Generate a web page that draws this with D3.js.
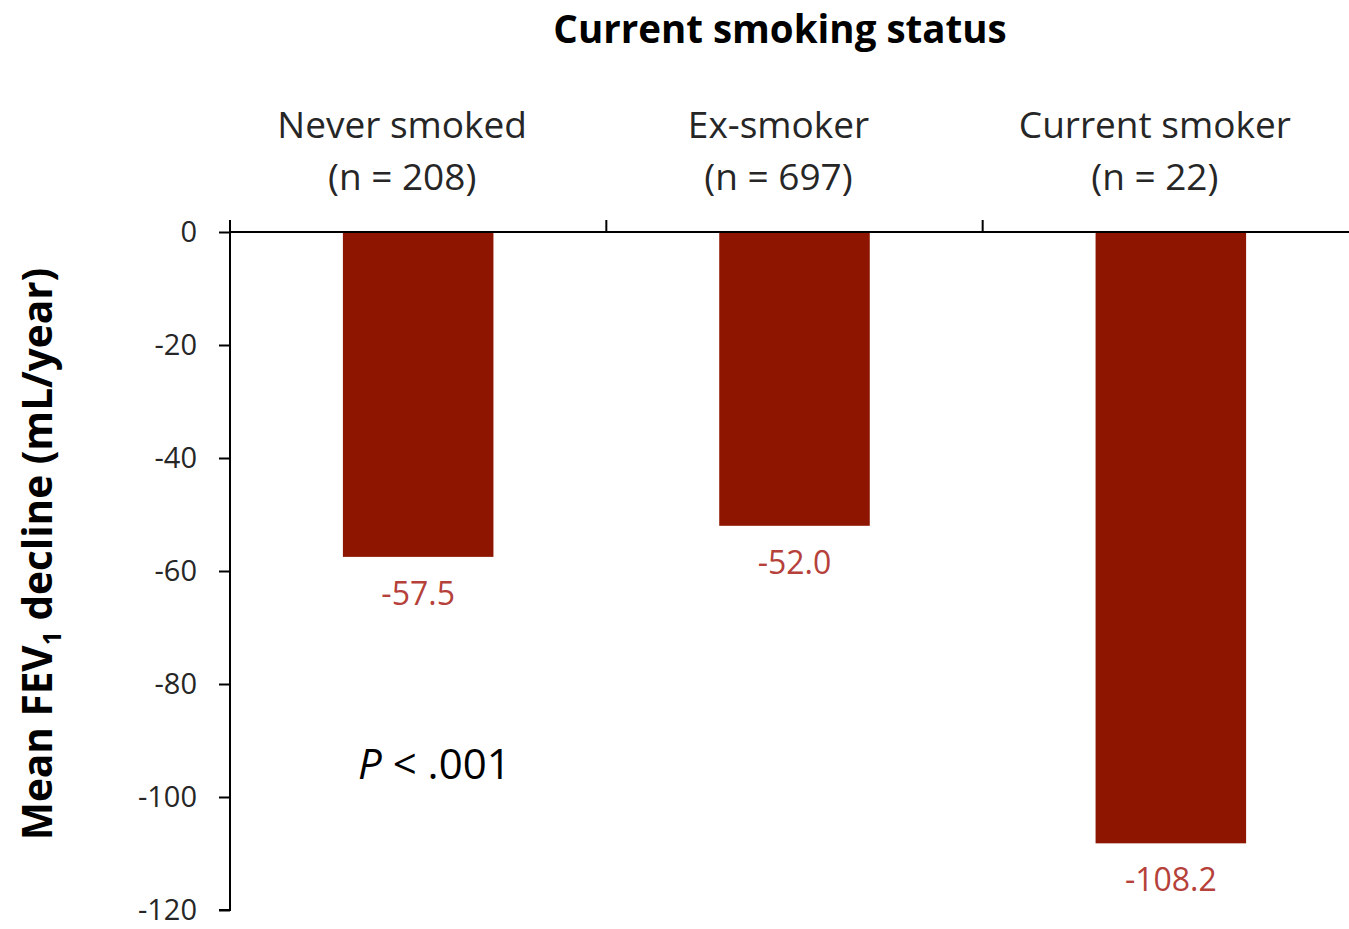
<!DOCTYPE html>
<html><head><meta charset="utf-8">
<script src="https://cdn.jsdelivr.net/npm/d3@7"></script>
<style>body{margin:0;background:#fff;} svg{display:block;}</style>
</head><body>
<svg id="c" width="1349" height="929"></svg>
<script>
const categories = ["Never smoked", "Ex-smoker", "Current smoker"];
const counts = ["(n = 208)", "(n = 697)", "(n = 22)"];
const values = [-57.5, -52.0, -108.2];
const valueLabels = ["-57.5", "-52.0", "-108.2"];
const yTicks = [0, -20, -40, -60, -80, -100, -120];

const svg = d3.select("#c");
const font = "'Open Sans', sans-serif";
const x = d3.scaleBand().domain(categories).range([230, 1359]).paddingInner(0.6).paddingOuter(0.3);
const y = d3.scaleLinear().domain([0, -120]).range([232, 910]);

// bars
svg.selectAll("rect.bar").data(values).enter().append("rect")
  .attr("class", "bar")
  .attr("x", (d, i) => x(categories[i]))
  .attr("width", x.bandwidth())
  .attr("y", y(0))
  .attr("height", d => y(d) - y(0))
  .attr("fill", "#8e1600");

// y axis
const yAxis = d3.axisLeft(y).tickValues(yTicks).tickSize(11).tickPadding(22).tickFormat(d => String(d));
const ga = svg.append("g").attr("transform", "translate(230,0)").call(yAxis);
ga.select(".domain").attr("stroke", "#000").attr("stroke-width", 2).attr("d", "M-11,910H0V220");
ga.selectAll(".tick line").attr("stroke", "#000").attr("stroke-width", 2);
ga.selectAll(".tick text").attr("font-family", font).attr("font-size", 29).attr("fill", "#262626");

// x axis (top at zero) with boundary ticks
const bounds = [230, 230 + x.step(), 230 + 2 * x.step()];
svg.append("line").attr("x1", 230).attr("x2", 1349).attr("y1", y(0)).attr("y2", y(0))
  .attr("stroke", "#000").attr("stroke-width", 2);
svg.selectAll("line.bt").data(bounds).enter().append("line")
  .attr("x1", d => d).attr("x2", d => d).attr("y1", y(0)).attr("y2", y(0) - 12)
  .attr("stroke", "#000").attr("stroke-width", 2);

// category labels
const cx = c => x(c) + x.bandwidth() / 2;
svg.selectAll("text.cat").data(categories).enter().append("text")
  .attr("x", d => cx(d) - 16).attr("y", 138).attr("text-anchor", "middle")
  .attr("font-family", font).attr("font-size", 37).attr("fill", "#262626").text(d => d);
svg.selectAll("text.cnt").data(counts).enter().append("text")
  .attr("x", (d, i) => cx(categories[i]) - 16).attr("y", 190).attr("text-anchor", "middle")
  .attr("font-family", font).attr("font-size", 37).attr("fill", "#262626").text(d => d);

// value labels
svg.selectAll("text.val").data(values).enter().append("text")
  .attr("x", (d, i) => cx(categories[i])).attr("y", d => y(d) + 48).attr("text-anchor", "middle")
  .attr("font-family", font).attr("font-size", 32).attr("fill", "#b5413a")
  .text((d, i) => valueLabels[i]);

// title
svg.append("text").attr("x", 780).attr("y", 43).attr("text-anchor", "middle")
  .attr("font-family", font).attr("font-weight", "bold").attr("font-size", 38.5).attr("fill", "#000")
  .text("Current smoking status");

// y label
const yl = svg.append("text").attr("transform", "translate(52,554) rotate(-90)")
  .attr("text-anchor", "middle").attr("font-family", font).attr("font-weight", "bold")
  .attr("font-size", 40.5).attr("fill", "#000");
yl.append("tspan").text("Mean FEV");
yl.append("tspan").attr("font-size", 25).attr("dy", 9).text("1");
yl.append("tspan").attr("dy", -9).text(" decline (mL/year)");

// p value
const p = svg.append("text").attr("x", 358).attr("y", 779)
  .attr("font-family", font).attr("font-size", 42).attr("fill", "#000");
p.append("tspan").attr("font-style", "italic").text("P");
p.append("tspan").text(" < .001");
</script>
</body></html>
